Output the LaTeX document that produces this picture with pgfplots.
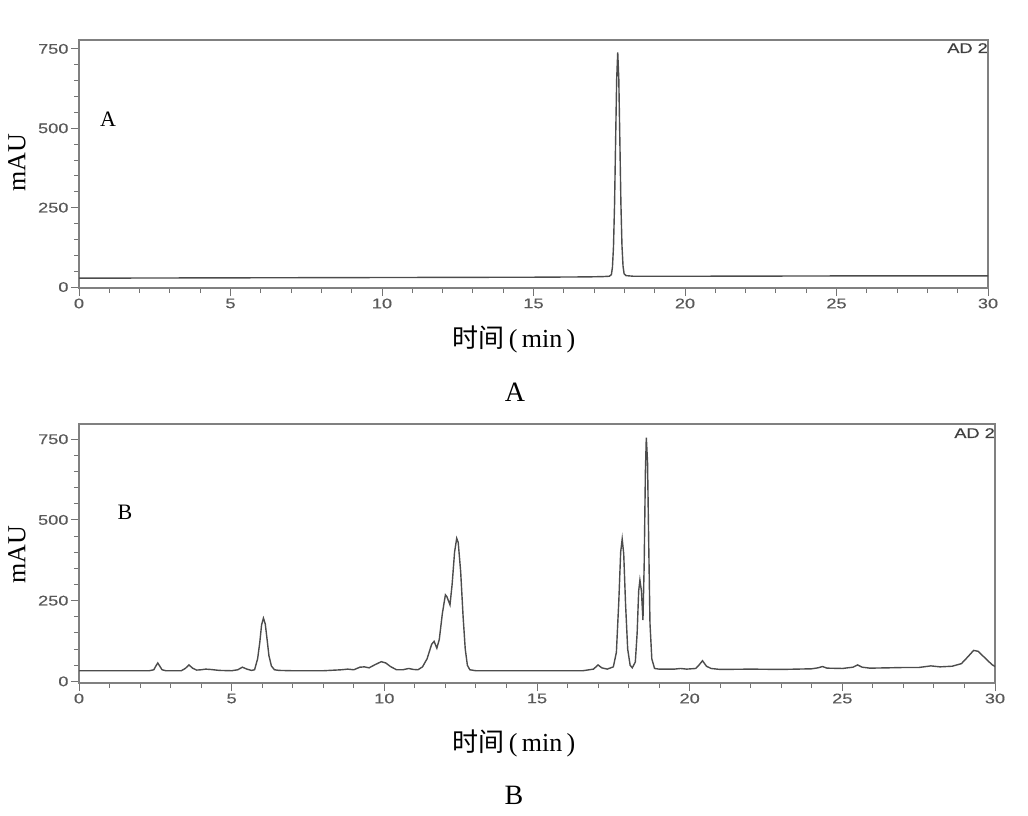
\documentclass[border=0pt]{standalone}
\usepackage{fontspec}
\usepackage{pgfplots}
\pgfplotsset{compat=1.18}
\setmainfont{Liberation Serif}
\newfontfamily\tickfont[FakeStretch=1.3,FakeBold=0.4]{Liberation Sans}
\newfontfamily\cjk{Noto Sans CJK SC}

\pgfplotsset{chrom/.style={
  scale only axis, xmin=0, xmax=30,
  xtick={0,5,...,30}, ytick={0,250,500,750},
  minor x tick num=4, minor y tick num=4,
  tick pos=left, tick align=outside,
  axis line style={black!50, line width=1.4pt},
  every tick/.style={black!55, line width=1pt},
  major tick length=8pt, minor tick length=5pt,
  tick label style={font=\tickfont\fontsize{14}{14}\selectfont, text=black!65},
  /pgf/number format/assume math mode=true,
  xticklabel style={yshift=1pt},
  yticklabel style={xshift=1pt},
}}

\begin{document}
\begin{tikzpicture}[x=1pt,y=1pt]
\path[use as bounding box] (0,0) rectangle (1028,-816);

% ---------- Panel A ----------
\begin{axis}[chrom, at={(79pt,-288pt)}, anchor=south west,
  width=909pt, height=248pt, ymin=-3, ymax=778]
\addplot[black!70, line width=1.4pt] coordinates {
(0,28) (5,29) (10,30) (15,31) (16.8,32) (17.3,33) (17.5,34)
(17.57,39) (17.605,62) (17.64,127) (17.675,261) (17.71,461) (17.745,655)
(17.78,739) (17.815,655) (17.85,461) (17.885,261) (17.92,130) (17.955,66)
(17.99,42) (18.05,36) (18.3,34) (20,34) (25,35) (30,35)
};
\end{axis}

% ---------- Panel B ----------
\begin{axis}[chrom, at={(79pt,-683pt)}, anchor=south west,
  width=916pt, height=259pt, ymin=-5, ymax=797]
\addplot[black!70, line width=1.4pt] coordinates {
(0,33) (2.3,33) (2.45,36) (2.52,48) (2.58,57) (2.64,48) (2.72,36) (2.85,33)
(3.35,33) (3.48,40) (3.6,51) (3.72,41) (3.85,35) (4.0,36) (4.15,38) (4.3,37)
(4.6,34) (5.0,33) (5.2,36) (5.35,44) (5.5,38) (5.65,34) (5.75,36) (5.85,70)
(5.92,120) (5.98,175) (6.04,196) (6.1,178) (6.16,130) (6.22,80) (6.3,48)
(6.4,36) (6.55,34) (7.0,33) (8.0,33) (8.6,36) (8.8,38) (9.0,36) (9.2,44)
(9.35,45) (9.5,42) (9.7,52) (9.9,61) (10.05,57) (10.2,46) (10.4,36) (10.6,36)
(10.8,40) (10.95,37) (11.1,36) (11.25,45) (11.4,70) (11.55,115) (11.63,124)
(11.72,103) (11.8,130) (11.9,210) (12.0,268) (12.05,262) (12.15,237)
(12.22,300) (12.3,400) (12.37,443) (12.42,430) (12.5,340) (12.58,200)
(12.65,100) (12.72,50) (12.8,36) (13.0,33) (16.5,33) (16.85,38) (17.0,51)
(17.12,42) (17.3,38) (17.5,45) (17.6,90) (17.68,250) (17.74,400) (17.79,441)
(17.84,395) (17.9,240) (17.97,100) (18.05,50) (18.12,42) (18.22,60)
(18.28,150) (18.33,280) (18.37,314) (18.42,280) (18.47,190) (18.51,360)
(18.55,650) (18.58,755) (18.62,680) (18.66,420) (18.7,180) (18.76,70)
(18.85,40) (19.0,38) (19.5,38) (19.7,40) (19.9,38) (20.2,40) (20.3,50)
(20.42,64) (20.55,47) (20.7,40) (21.0,37) (22.0,38) (23.0,37) (24.0,39)
(24.2,42) (24.35,46) (24.5,41) (25.0,40) (25.35,44) (25.5,51) (25.65,44)
(25.9,41) (26.5,42) (27.0,43) (27.5,43) (27.9,48) (28.2,45) (28.6,47)
(28.9,55) (29.1,75) (29.3,96) (29.45,93) (29.7,70) (29.9,52) (30.0,46)
};
\end{axis}

% ---------- Texts ----------
\node[rotate=90, font=\fontsize{26}{26}\selectfont] at (17,-163) {mAU};
\node[rotate=90, font=\fontsize{26}{26}\selectfont] at (17,-555) {mAU};
\node[font=\fontsize{22}{22}\selectfont] at (108,-119) {A};
\node[font=\fontsize{22}{22}\selectfont] at (125,-512) {B};
\node[font=\fontsize{26}{26}\selectfont] at (514,-339) {{\cjk 时间}\,(\,min\,)};
\node[font=\fontsize{26}{26}\selectfont] at (514,-743) {{\cjk 时间}\,(\,min\,)};
\node[font=\fontsize{28}{28}\selectfont] at (515,-392) {A};
\node[font=\fontsize{28}{28}\selectfont] at (514,-795) {B};
\node[anchor=north east, inner sep=0pt, text=black!75, font=\tickfont\fontsize{14}{14}\selectfont] at (988,-43) {AD 2};
\node[anchor=north east, inner sep=0pt, text=black!75, font=\tickfont\fontsize{14}{14}\selectfont] at (995,-428) {AD 2};
\end{tikzpicture}
\end{document}
